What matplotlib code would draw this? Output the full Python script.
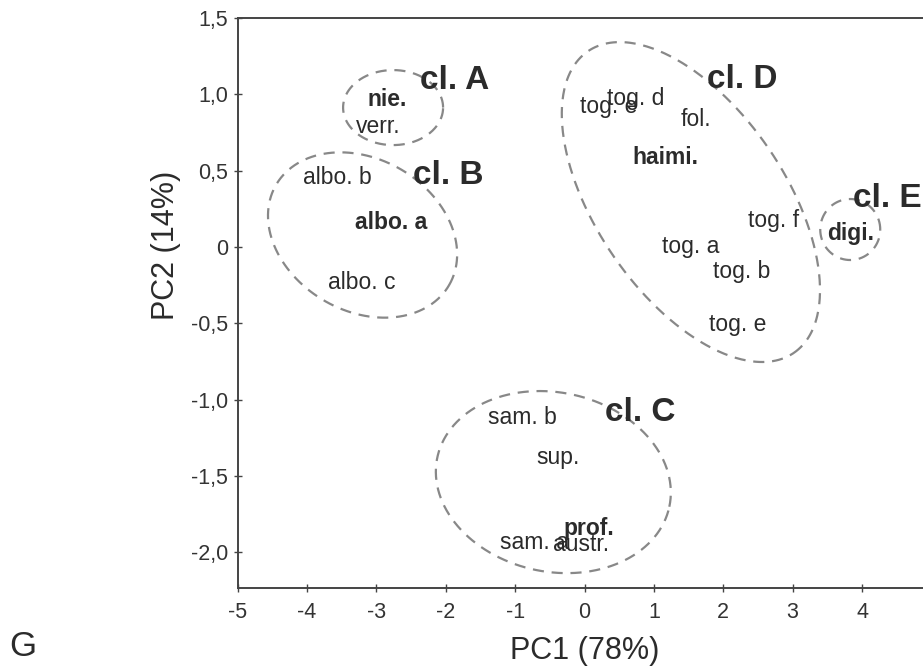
import numpy as np
import matplotlib
matplotlib.use("Agg")
import matplotlib.pyplot as plt

plt.rcParams['font.family'] = ['Liberation Sans', 'DejaVu Sans']

# sample labels (PC1, PC2) and weight
labels = ["nie.", "verr.", "albo. b", "albo. a", "albo. c",
          "tog. e", "tog. d", "fol.", "haimi.", "tog. f", "tog. a", "tog. b", "tog. e",
          "digi.", "sam. b", "sup.", "prof.", "sam. a", "austr."]
pc1 = [-2.85, -2.97, -3.56, -2.79, -3.21,
       0.35, 0.74, 1.61, 1.16, 2.72, 1.53, 2.27, 2.21,
       3.83, -0.89, -0.385, 0.06, -0.72, -0.05]
pc2 = [0.963, 0.792, 0.452, 0.157, -0.236,
       0.923, 0.975, 0.832, 0.583, 0.176, 0.0, -0.164, -0.511,
       0.091, -1.121, -1.377, -1.842, -1.940, -1.953]
bold = [True, False, False, True, False,
        False, False, False, True, False, False, False, False,
        True, False, False, True, False, False]

# cluster labels
cluster_names = ["cl. A", "cl. B", "cl. C", "cl. D", "cl. E"]
cluster_x = [-1.88, -1.97, 0.80, 2.28, 4.36]
cluster_y = [1.093, 0.471, -1.082, 1.10, 0.320]

# cluster ellipses: centre (data), semi-axes (px), angle (deg)
ell_cx = [-2.76, -3.20, -0.45, 1.533, 3.83]
ell_cy = [0.913, 0.078, -1.541, 0.294, 0.114]
ell_a = [50, 100, 118.6, 182.6, 30]
ell_b = [37.5, 76, 89.6, 94.4, 30.5]
ell_ang = [0, -30, -12, -55.7, 0]

xticks = [-5, -4, -3, -2, -1, 0, 1, 2, 3, 4]
yticks = [1.5, 1.0, 0.5, 0.0, -0.5, -1.0, -1.5, -2.0]
ytick_labels = ["1,5", "1,0", "0,5", "0", "-0,5", "-1,0", "-1,5", "-2,0"]

W, H = 923, 671
fig = plt.figure(figsize=(W / 100, H / 100), dpi=100)
ax_left, ax_right = 237.7, 931.4
ax_top, ax_bot = 18.0, 587.7
ax = fig.add_axes([ax_left / W, (H - ax_bot) / H, (ax_right - ax_left) / W, (ax_bot - ax_top) / H])
xlim = (-5, 5)
ylim = (-2.233, 1.5)
ax.set_xlim(*xlim)
ax.set_ylim(*ylim)

sx = (ax_right - ax_left) / (xlim[1] - xlim[0])
sy = (ax_bot - ax_top) / (ylim[1] - ylim[0])

dark = '#2b2b2b'
ax.spines['right'].set_visible(False)
for s in ['left', 'bottom', 'top']:
    ax.spines[s].set_color('#444444')
    ax.spines[s].set_linewidth(1.4)

ax.set_xticks(xticks)
ax.set_xticklabels([str(t) for t in xticks])
ax.set_yticks(yticks)
ax.set_yticklabels(ytick_labels)
ax.tick_params(direction='inout', length=6, width=1.0, color='#444444',
               labelsize=15.5, labelcolor='#333333')
ax.tick_params(axis='x', pad=7)
ax.tick_params(axis='y', pad=4)

# ellipses
t = np.linspace(0, 2 * np.pi, 400)
for cx, cy, a, b, ang in zip(ell_cx, ell_cy, ell_a, ell_b, ell_ang):
    th = np.deg2rad(ang)
    px = a * np.cos(t) * np.cos(th) - b * np.sin(t) * np.sin(th)
    py = a * np.cos(t) * np.sin(th) + b * np.sin(t) * np.cos(th)
    ax.plot(cx + px / sx, cy + py / sy, color='#888888', lw=1.6,
            dashes=(5, 3.5), zorder=1)

for lab, x, y, bd in zip(labels, pc1, pc2, bold):
    ax.text(x, y, lab, ha='center', va='center', fontsize=16.5,
            fontweight='bold' if bd else 'normal', color=dark, zorder=3)

for lab, x, y in zip(cluster_names, cluster_x, cluster_y):
    ax.text(x, y, lab, ha='center', va='center', fontsize=24,
            fontweight='bold', color=dark, zorder=3)

ax.set_xlabel("PC1 (78%)", fontsize=22, color=dark)
ax.set_ylabel("PC2 (14%)", fontsize=22, color=dark)
ax.xaxis.set_label_coords(0.5, (ax_bot - 636) / (ax_bot - ax_top))
ax.yaxis.set_label_coords((181 - ax_left) / (ax_right - ax_left), (ax_bot - 245) / (ax_bot - ax_top))

fig.text(23 / W, 1 - 647 / H, "G", ha='center', va='center', fontsize=25, color=dark)

fig.savefig("out.png", dpi=100)
